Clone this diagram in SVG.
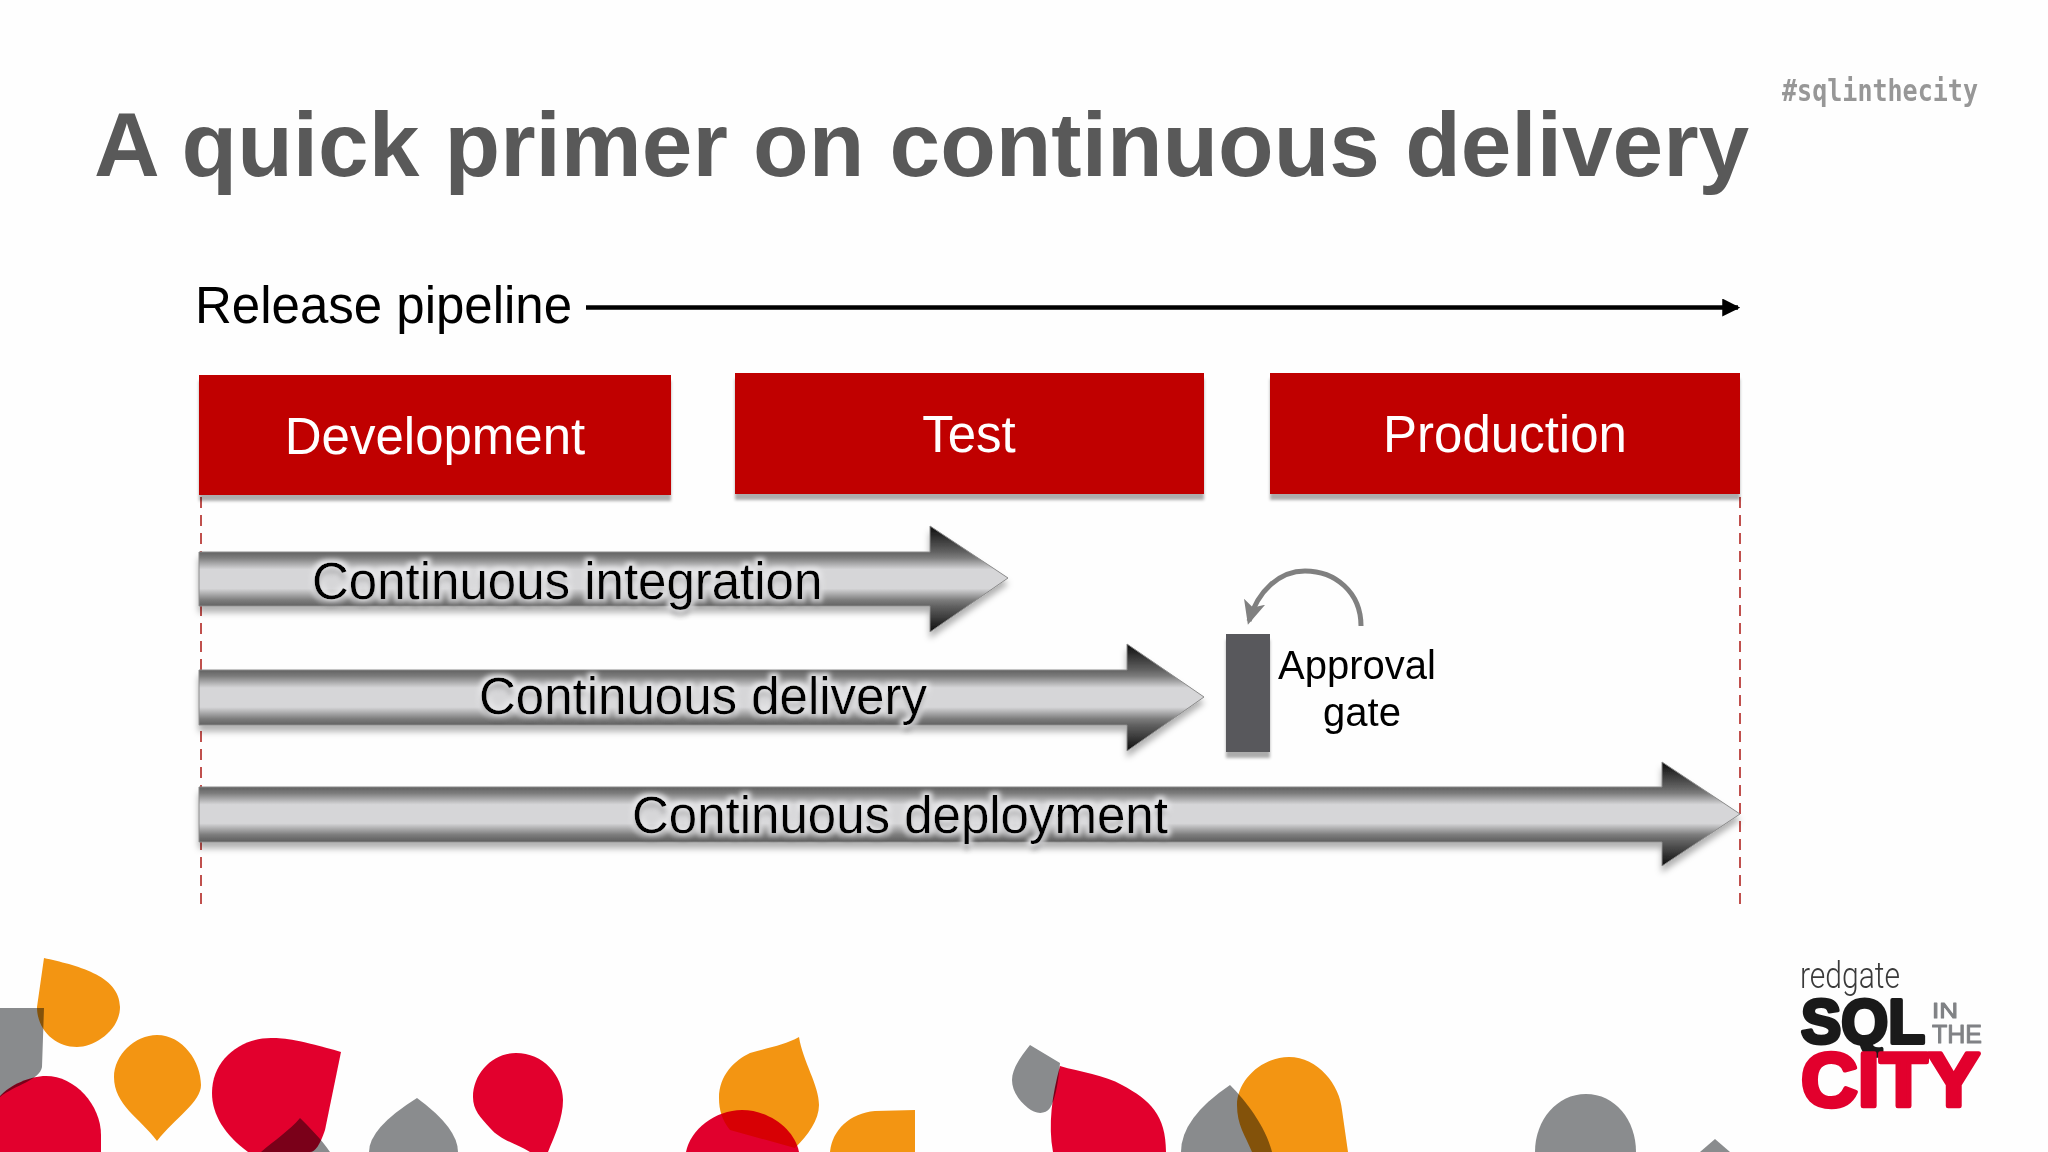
<svg xmlns="http://www.w3.org/2000/svg" width="2048" height="1152" viewBox="0 0 2048 1152">
<style>
text{font-family:"Liberation Sans",Arial,sans-serif}
.title{font-size:91px;font-weight:700;fill:#595959}
.lab{font-size:51px;fill:#000}
.boxt{font-size:51px;fill:#fff;text-anchor:middle}
.box{fill:#c00000;filter:url(#sh)}
.arrow{fill:url(#metal);stroke:#8a8a8a;stroke-width:1;filter:url(#ash)}
.halo{font-size:51px;fill:#000;filter:url(#glow)}
.gt{font-size:40px;fill:#000;text-anchor:middle}
.dash{stroke:#c0504d;stroke-width:2;stroke-dasharray:11 7;fill:none}
.m{mix-blend-mode:multiply}
.o{fill:#f39512}.r{fill:#e2002d}.g{fill:#8a8c8e}
</style>
<defs>
<linearGradient id="metal" x1="0" y1="0" x2="0" y2="1">
<stop offset="0" stop-color="#0c0c0c"/><stop offset="0.24" stop-color="#606060"/><stop offset="0.3" stop-color="#7c7c7c"/><stop offset="0.41" stop-color="#d6d6d8"/><stop offset="0.59" stop-color="#d6d6d8"/><stop offset="0.7" stop-color="#7c7c7c"/><stop offset="0.76" stop-color="#606060"/><stop offset="1" stop-color="#0c0c0c"/>
</linearGradient>
<filter id="sh" x="-5%" y="-5%" width="110%" height="125%"><feDropShadow dx="0" dy="6" stdDeviation="1.5" flood-color="#000" flood-opacity=".32"/></filter>
<filter id="ash" x="-3%" y="-10%" width="106%" height="130%"><feDropShadow dx="0" dy="6" stdDeviation="3" flood-color="#000" flood-opacity=".3"/></filter>
<filter id="glow" x="-5%" y="-30%" width="110%" height="170%">
<feMorphology in="SourceAlpha" operator="dilate" radius="3" result="d"/>
<feGaussianBlur in="d" stdDeviation="2.5" result="b"/>
<feFlood flood-color="#e6e6e8" flood-opacity="1"/><feComposite in2="b" operator="in" result="w"/>
<feGaussianBlur in="SourceAlpha" stdDeviation="2.5" result="s"/>
<feOffset in="s" dy="6" result="so"/>
<feFlood flood-color="#000" flood-opacity=".45"/><feComposite in2="so" operator="in" result="ds"/>
<feMerge><feMergeNode in="w"/><feMergeNode in="ds"/><feMergeNode in="SourceGraphic"/></feMerge>
</filter>
<filter id="soft"><feGaussianBlur stdDeviation="0.7"/></filter>
<marker id="blk" markerWidth="4" markerHeight="4" refX="3.5" refY="2" orient="auto"><path d="M0 0L4 2L0 4Z" fill="#000"/></marker>
<marker id="gry" markerUnits="userSpaceOnUse" markerWidth="24" markerHeight="24" refX="20" refY="12" orient="auto"><path d="M0 1L24 12L0 23L6 12Z" fill="#808080"/></marker>
</defs>
<rect width="2048" height="1152" fill="#fefefe"/>

<g id="backdrop">
<path class="o" d="M44 958C75 965 120 975 120 1007C120 1030 95 1047 77 1047C55 1047 37 1030 37 1007Z"/>
<path class="r" d="M0 1096C10 1085 30 1076 46 1076C75 1076 101 1105 101 1135L101 1152L0 1152Z"/>
<path class="g m" d="M0 1008L44 1008L42 1067C40 1080 15 1085 0 1097Z"/>
<path class="o" d="M157 1035C183 1035 201 1062 201 1085C201 1102 175 1118 157 1141C140 1118 114 1105 114 1077C114 1055 135 1035 157 1035Z"/>
<path class="r" d="M271 1038C285 1038 300 1040 341 1052L325 1130C320 1145 315 1152 310 1152L248 1152C225 1135 212 1115 212 1093C212 1060 240 1038 271 1038Z"/>
<path class="g m" d="M300 1118C290 1130 275 1140 261 1152L330 1152C322 1140 310 1128 300 1118Z"/>
<path class="g" d="M417 1098Q458 1128 458 1152L369 1152Q369 1128 417 1098Z"/>
<path class="r" d="M516 1053C543 1053 563 1075 563 1100C563 1118 555 1135 548 1152L530 1152C515 1143 500 1140 490 1128C480 1117 473 1110 473 1097C473 1073 493 1053 516 1053Z"/>
<path class="o" d="M799 1037C803 1062 819 1085 819 1105C819 1120 808 1135 795 1148L730 1130C722 1120 719 1110 719 1098C719 1075 735 1060 750 1053C770 1047 785 1045 799 1037Z"/>
<path class="r m" d="M686 1152C690 1130 715 1110 742 1110C770 1110 795 1130 799 1152Z"/>
<path class="o" d="M915 1110L875 1111C850 1113 832 1130 830 1152L915 1152Z"/>
<path class="r" d="M1060 1066C1080 1072 1105 1075 1122 1085C1150 1100 1166 1115 1166 1152L1053 1152C1048 1125 1052 1095 1060 1066Z"/>
<path class="g m" d="M1030 1045L1060 1063C1058 1085 1055 1100 1050 1108C1045 1115 1035 1114 1028 1108C1018 1100 1012 1090 1012 1080C1012 1068 1022 1055 1030 1045Z"/>
<path class="o" d="M1289 1057C1318 1057 1340 1085 1342 1110L1348 1152L1252 1152C1245 1135 1237 1125 1237 1105C1237 1080 1262 1057 1289 1057Z"/>
<path class="g m" d="M1230 1085C1245 1100 1265 1125 1272 1152L1181 1152Q1181 1118 1230 1085Z"/>
<path class="g" d="M1586 1094C1615 1094 1636 1120 1636 1152L1535 1152C1535 1120 1557 1094 1586 1094Z"/>
<path class="g" d="M1715 1139L1730 1152L1700 1152Z"/>
</g>

<g id="heading">
<text class="title" x="94" y="176">A quick primer on continuous delivery</text>
<text x="1782" y="101" font-size="31" font-weight="700" fill="#979797" filter="url(#soft)" style="font-family:'DejaVu Sans Mono',monospace" textLength="196" lengthAdjust="spacingAndGlyphs">#sqlinthecity</text>
</g>

<g id="connectors">
<line class="dash" x1="201" y1="497" x2="201" y2="904"/>
<line class="dash" x1="1740" y1="497" x2="1740" y2="904"/>
<line x1="586" y1="307.5" x2="1738" y2="307.5" stroke="#000" stroke-width="4.5" marker-end="url(#blk)"/>
<path d="M1361 626C1361 592 1335 571 1305 571C1280 571 1258 590 1249 621" fill="none" stroke="#808080" stroke-width="5" marker-end="url(#gry)"/>
</g>

<g id="release-pipeline"><text class="lab" x="195" y="323">Release pipeline</text></g>

<g id="development"><rect class="box" x="199" y="375" width="472" height="120"/><text class="boxt" x="435" y="454">Development</text></g>
<g id="test"><rect class="box" x="735" y="373" width="469" height="121"/><text class="boxt" x="969" y="452">Test</text></g>
<g id="production"><rect class="box" x="1270" y="373" width="470" height="121"/><text class="boxt" x="1505" y="452">Production</text></g>

<g id="continuous-integration">
<path class="arrow" d="M199 552H930V526L1008 578L930 632V606H199Z"/>
<text class="halo" x="312" y="599">Continuous integration</text>
</g>
<g id="continuous-delivery">
<path class="arrow" d="M199 670H1127V644L1204 697L1127 751V725H199Z"/>
<text class="halo" x="479" y="714">Continuous delivery</text>
</g>
<g id="continuous-deployment">
<path class="arrow" d="M199 787H1662V762L1740 814L1662 866V842H199Z"/>
<text class="halo" x="632" y="833">Continuous deployment</text>
</g>

<g id="approval-gate">
<rect x="1226" y="634" width="44" height="118" fill="#58595b" filter="url(#sh)"/>
<text class="gt" x="1357" y="679">Approval</text>
<text class="gt" x="1362" y="726">gate</text>
</g>

<g id="logo" stroke-linejoin="round">
<text x="1800" y="988" font-size="36" fill="#3a3a3a" textLength="100" lengthAdjust="spacingAndGlyphs" style="font-family:Roboto,sans-serif;font-weight:300">redgate</text>
<text x="1801" y="1043" font-size="63" font-weight="700" fill="#1a1a1a" stroke="#1a1a1a" stroke-width="4" textLength="124" lengthAdjust="spacingAndGlyphs">SQL</text>
<text x="1932" y="1018" font-size="22" fill="#808285" stroke="#808285" stroke-width="1" textLength="26" lengthAdjust="spacingAndGlyphs">IN</text>
<text x="1932" y="1043" font-size="26" fill="#808285" stroke="#808285" stroke-width="1" textLength="50" lengthAdjust="spacingAndGlyphs">THE</text>
<text x="1801" y="1106" font-size="76" font-weight="700" fill="#e2002d" stroke="#e2002d" stroke-width="4.5" textLength="179" lengthAdjust="spacingAndGlyphs">CITY</text>
</g>
</svg>
